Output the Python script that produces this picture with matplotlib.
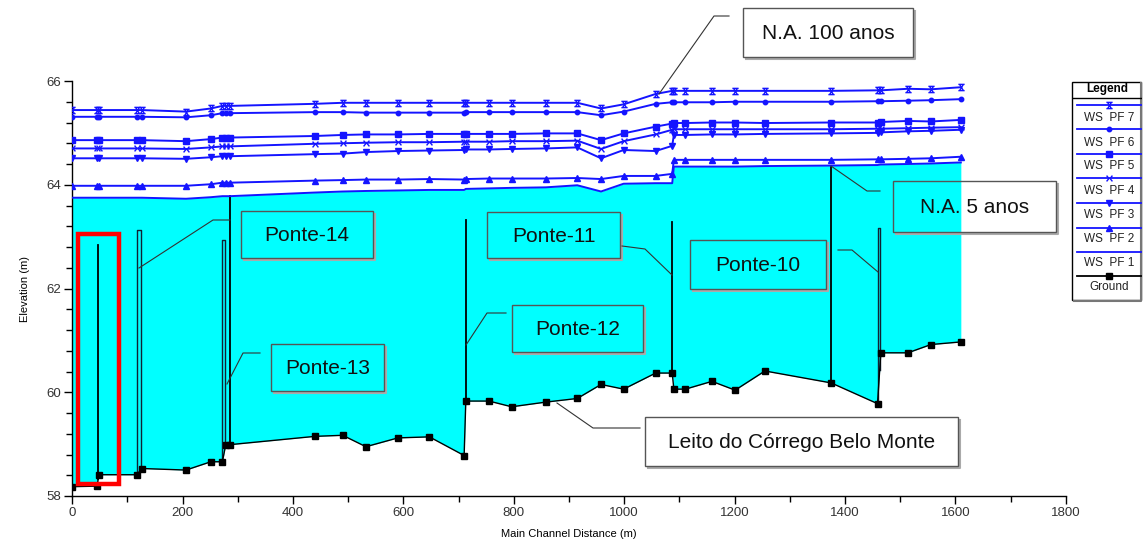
import matplotlib
matplotlib.use('Agg')
import matplotlib.pyplot as plt
import numpy as np
from matplotlib.path import Path
from matplotlib.lines import Line2D
from matplotlib.patches import Rectangle

plt.rcParams['font.family'] = ['Liberation Sans', 'DejaVu Sans']

# river stations (m) and elevations (m)
stations = [0, 45, 48, 117, 126, 206, 251, 272, 278, 286, 440, 490, 532, 590, 647,
            710, 713, 755, 796, 858, 915, 958, 999, 1057, 1087, 1090, 1111, 1159,
            1201, 1255, 1375, 1459, 1465, 1514, 1556, 1610]
ground = [58.18, 58.19, 58.41, 58.41, 58.53, 58.50, 58.66, 58.66, 58.99, 58.99, 59.15,
          59.17, 58.95, 59.12, 59.14, 58.78, 59.83, 59.83, 59.72, 59.81, 59.88, 60.15,
          60.06, 60.37, 60.37, 60.06, 60.06, 60.21, 60.04, 60.41, 60.18, 59.78, 60.76,
          60.76, 60.92, 60.97]
ws_pf1 = [63.75, 63.75, 63.75, 63.75, 63.75, 63.73, 63.76, 63.78, 63.78, 63.78, 63.85,
          63.87, 63.88, 63.89, 63.90, 63.90, 63.92, 63.93, 63.94, 63.95, 63.99, 63.87,
          64.02, 64.03, 64.03, 64.35, 64.35, 64.35, 64.35, 64.36, 64.37, 64.38, 64.39,
          64.40, 64.41, 64.43]
ws_pf2 = [63.98, 63.98, 63.98, 63.98, 63.98, 63.98, 64.01, 64.04, 64.04, 64.04, 64.08,
          64.09, 64.10, 64.10, 64.11, 64.10, 64.11, 64.12, 64.12, 64.12, 64.13, 64.11,
          64.17, 64.17, 64.21, 64.48, 64.48, 64.48, 64.48, 64.48, 64.48, 64.49, 64.49,
          64.50, 64.51, 64.54]
ws_pf3 = [64.51, 64.51, 64.51, 64.51, 64.51, 64.50, 64.53, 64.55, 64.55, 64.55, 64.59,
          64.60, 64.63, 64.65, 64.66, 64.67, 64.68, 64.68, 64.69, 64.70, 64.72, 64.51,
          64.67, 64.65, 64.75, 64.96, 64.96, 64.97, 64.97, 64.98, 64.99, 65.00, 65.01,
          65.03, 65.04, 65.06]
ws_pf4 = [64.70, 64.70, 64.70, 64.70, 64.70, 64.69, 64.72, 64.74, 64.74, 64.74, 64.79,
          64.80, 64.81, 64.82, 64.82, 64.83, 64.83, 64.83, 64.84, 64.84, 64.85, 64.69,
          64.84, 64.97, 65.06, 65.07, 65.07, 65.07, 65.07, 65.07, 65.07, 65.08, 65.08,
          65.09, 65.10, 65.11]
ws_pf5 = [64.86, 64.86, 64.86, 64.86, 64.86, 64.84, 64.88, 64.91, 64.91, 64.91, 64.94,
          64.96, 64.97, 64.97, 64.98, 64.98, 64.98, 64.98, 64.98, 64.99, 64.99, 64.86,
          64.99, 65.12, 65.18, 65.19, 65.19, 65.20, 65.20, 65.19, 65.20, 65.20, 65.21,
          65.23, 65.22, 65.25]
ws_pf6 = [65.31, 65.31, 65.31, 65.31, 65.31, 65.30, 65.34, 65.38, 65.38, 65.38, 65.40,
          65.40, 65.39, 65.39, 65.39, 65.39, 65.40, 65.40, 65.40, 65.40, 65.40, 65.34,
          65.41, 65.56, 65.59, 65.59, 65.59, 65.59, 65.60, 65.60, 65.60, 65.61, 65.61,
          65.62, 65.63, 65.65]
ws_pf7 = [65.44, 65.44, 65.44, 65.44, 65.44, 65.41, 65.47, 65.52, 65.52, 65.52, 65.56,
          65.58, 65.58, 65.58, 65.58, 65.58, 65.58, 65.58, 65.58, 65.58, 65.58, 65.47,
          65.55, 65.75, 65.81, 65.81, 65.81, 65.81, 65.81, 65.81, 65.81, 65.82, 65.82,
          65.85, 65.84, 65.88]

# bridges / structures
bridge_left = [47, 117, 271, 286, 714, 1087, 1375, 1459]
bridge_right = [47, 124, 277, 286, 714, 1087, 1375, 1463]
bridge_top = [62.84, 63.13, 62.93, 63.78, 63.32, 63.28, 64.35, 63.17]

W, H = 1144, 545
fig = plt.figure(figsize=(W / 100, H / 100), dpi=100)
ax = fig.add_axes([72.3 / W, 1 - 496 / H, 993.4 / W, 415 / H])

x = np.array(stations)
gr = np.array(ground)

ax.fill_between(x, gr, ws_pf1, color='#00ffff', lw=0, zorder=1)

# markers
hourglass = Path([(-1, 1), (1, 1), (-1, -1), (1, -1), (-0.6, 1), (0.6, -1), (0.6, 1), (-0.6, -1)],
                 [Path.MOVETO, Path.LINETO] * 4)
bowtie = Path([(-1, 1), (-0.2, 0), (-1, -1), (1, 1), (0.2, 0), (1, -1)],
              [Path.MOVETO, Path.LINETO, Path.LINETO] * 2)

blue = '#1414ff'
series = [
    ('WS  PF 7', ws_pf7, dict(marker=hourglass, ms=4.5, mew=1.0, fillstyle='none')),
    ('WS  PF 6', ws_pf6, dict(marker='o', ms=3.2)),
    ('WS  PF 5', ws_pf5, dict(marker='s', ms=4.3)),
    ('WS  PF 4', ws_pf4, dict(marker=bowtie, ms=4.2, mew=1.0, fillstyle='none')),
    ('WS  PF 3', ws_pf3, dict(marker='v', ms=4.6)),
    ('WS  PF 2', ws_pf2, dict(marker='^', ms=4.6)),
    ('WS  PF 1', ws_pf1, dict(marker=None)),
]
for name, ys, st in series:
    ax.plot(x, ys, color=blue, lw=1.4, mec=blue, mfc=blue, zorder=4, **st)

ax.plot(x, gr, color='black', lw=1.0, marker='s', ms=5, mfc='black', mec='black', zorder=5)

# structures
for xl, xr, top in zip(bridge_left, bridge_right, bridge_top):
    bl = np.interp(xl, x, gr)
    br = np.interp(xr, x, gr)
    if xl == xr:
        ax.plot([xl, xl], [bl, top], color='black', lw=1.3, zorder=3)
    else:
        ax.plot([xl, xl, xr, xr], [bl, top, top, br], color='#123', lw=1.0, zorder=3)

ax.set_xlim(0, 1800)
ax.set_ylim(58, 66)
ax.set_xticks(np.arange(0, 1801, 200))
ax.set_xticks(np.arange(0, 1801, 100), minor=True)
ax.set_yticks(np.arange(58, 66.1, 2))
ax.set_yticks(np.arange(58, 66.01, 0.4), minor=True)
for s in ['top', 'right']:
    ax.spines[s].set_visible(False)
for s in ['left', 'bottom']:
    ax.spines[s].set_color('black')
    ax.spines[s].set_linewidth(1.0)
ax.tick_params(labelsize=9.5, labelcolor='#333333', length=6, width=1, pad=2)
ax.tick_params(which='minor', length=4, width=1)
ax.set_xlabel('Main Channel Distance (m)', fontsize=8, labelpad=7)
ax.set_ylabel('Elevation (m)', fontsize=8, labelpad=12)


def fp(px, py):
    return px / W, 1 - py / H


# red highlight
r0 = fp(78, 484)
r1 = fp(119, 234)
fig.patches.append(Rectangle(r0, r1[0] - r0[0], r1[1] - r0[1], transform=fig.transFigure,
                             fill=False, edgecolor='#ff0000', lw=3.2, zorder=10))

# annotation boxes
boxes = [
    ('N.A. 100 anos', 743, 8, 913, 57, [(659, 94), (714, 16), (729, 16)]),
    ('Ponte-14', 241, 211, 373, 258, [(139, 268), (213, 220), (230, 220)]),
    ('Ponte-13', 271, 344, 384, 391, [(227, 384), (243, 353), (260, 353)]),
    ('Ponte-11', 487, 212, 620, 258, [(622, 246), (645, 249), (672, 275)]),
    ('Ponte-12', 512, 305, 643, 352, [(466, 345), (487, 313), (506, 313)]),
    ('Ponte-10', 690, 240, 826, 289, [(838, 250), (852, 250), (878, 272)]),
    ('N.A. 5 anos', 893, 181, 1056, 232, [(831, 166), (867, 191), (880, 191)]),
    ('Leito do Córrego Belo Monte', 645, 417, 958, 466, [(557, 403), (593, 428), (640, 428)]),
]
for label, x0, y0, x1, y1, lead in boxes:
    a = fp(x0, y1)
    b = fp(x1, y0)
    fig.patches.append(Rectangle(a, b[0] - a[0], b[1] - a[1], transform=fig.transFigure,
                                 fill=False, edgecolor='#555555', lw=1.0, zorder=11))
    sx, sy = zip(fp(x1 + 2, y0 + 3), fp(x1 + 2, y1 + 2), fp(x0 + 3, y1 + 2))
    fig.lines.append(Line2D(sx, sy, transform=fig.transFigure, color='#aaaaaa', lw=1.5, zorder=10))
    lx, ly = zip(*[fp(*p) for p in lead])
    fig.lines.append(Line2D(lx, ly, transform=fig.transFigure, color='#333333', lw=0.8, zorder=11))
    cx, cy = fp((x0 + x1) / 2, (y0 + y1) / 2 + 1)
    fig.text(cx, cy, label, ha='center', va='center', fontsize=15, color='#111111', zorder=12)

# legend
lx0, ly0, lx1, ly1 = 1071.7, 81, 1142.3, 301.7
lax = fig.add_axes([lx0 / W, 1 - ly1 / H, (lx1 - lx0) / W, (ly1 - ly0) / H])
lax.set_xlim(lx0, lx1)
lax.set_ylim(ly1, ly0)
lax.axis('off')
lax.add_patch(Rectangle((lx0 + 0.5, ly0 + 0.5), lx1 - lx0 - 2, ly1 - ly0 - 2, fill=False,
                        edgecolor='black', lw=1.0, clip_on=False))
lax.plot([lx1 - 1, lx1 - 1, lx0 + 2], [ly0 + 2, ly1 - 1, ly1 - 1], color='#777777', lw=1.5, clip_on=False)
lax.text((lx0 + lx1) / 2, 89, 'Legend', ha='center', va='center', fontsize=8.5, fontweight='bold')
lax.plot([lx0, lx1 - 1.5], [98.3, 98.3], color='black', lw=1.0)
line_y = [105, 129.3, 154.3, 178.3, 202.7, 227.7, 251.7, 276]
text_y = [117.7, 142.7, 166, 190.7, 215, 239.3, 263.3, 287.3]
entries = series + [('Ground', None, dict(marker='s', ms=5))]
for (name, _, st), yl, yt in zip(entries, line_y, text_y):
    col = 'black' if name == 'Ground' else blue
    lax.plot([1076.5, 1141], [yl, yl], color=col, lw=1.3)
    if st.get('marker') is not None:
        lax.plot([1109], [yl], color=col, mec=col, mfc=col, ls='none', **st)
    lax.text(1109, yt, name, ha='center', va='center', fontsize=8.5, color='#222222')

fig.savefig('out.png', dpi=100)
